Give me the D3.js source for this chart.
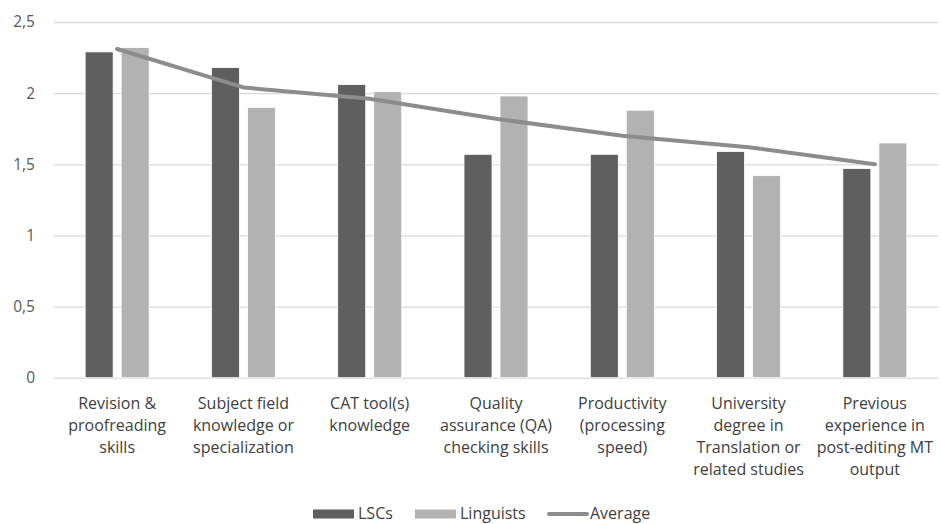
<!DOCTYPE html>
<html>
<head>
<meta charset="utf-8">
<script src="https://cdn.jsdelivr.net/npm/d3@7"></script>
<style>
  html, body { margin: 0; padding: 0; background: #fff; }
  svg { display: block; font-family: "Open Sans", "Noto Sans", sans-serif; }
</style>
</head>
<body>
<svg id="chart" width="942" height="524"></svg>
<script>
// Skill categories (multi-line labels)
const categories = [
  ["Revision &", "proofreading", "skills"],
  ["Subject field", "knowledge or", "specialization"],
  ["CAT tool(s)", "knowledge"],
  ["Quality", "assurance (QA)", "checking skills"],
  ["Productivity", "(processing", "speed)"],
  ["University", "degree in", "Translation or", "related studies"],
  ["Previous", "experience in", "post-editing MT", "output"]
];
const lscs      = [2.29, 2.18, 2.06, 1.57, 1.57, 1.59, 1.47];
const linguists = [2.32, 1.90, 2.01, 1.98, 1.88, 1.42, 1.65];
const average   = [2.31, 2.04, 1.96, 1.82, 1.70, 1.62, 1.50];
const yTicks = [0, 0.5, 1, 1.5, 2, 2.5];
const seriesNames = ["LSCs", "Linguists", "Average"];

const colors = { LSCs: "#5f5f5f", Linguists: "#b2b2b2", Average: "#8c8c8c" };

const svg = d3.select("#chart");
const margin = { left: 54, right: 4, top: 22 };
const W = 942;
const plotBottom = 377.7;

const x = d3.scaleBand()
  .domain(d3.range(categories.length))
  .range([margin.left, W - margin.right])
  .paddingInner(0).paddingOuter(0);

const y = d3.scaleLinear().domain([0, 2.5]).range([plotBottom, margin.top]);

const barW = 28, barGap = 8;

// Gridlines and value axis
const yAxis = d3.axisLeft(y)
  .tickValues(yTicks)
  .tickSize(-(W - margin.right - margin.left))
  .tickPadding(19)
  .tickFormat(d => d3.format("")(d).replace(".", ","));

const gy = svg.append("g")
  .attr("transform", `translate(${margin.left},0)`)
  .call(yAxis);
gy.select(".domain").remove();
gy.selectAll(".tick line").attr("stroke", "#d9d9d9").attr("stroke-width", 1.3);
gy.selectAll(".tick text")
  .attr("fill", "#595959")
  .attr("font-size", 15.5)
  .attr("font-family", "'Open Sans', 'Noto Sans', sans-serif");

// Bars
const groups = svg.append("g");
const center = i => x(i) + x.bandwidth() / 2;

groups.selectAll("rect.lsc")
  .data(lscs)
  .join("rect")
  .attr("class", "lsc")
  .attr("x", (d, i) => center(i) - barGap / 2 - barW)
  .attr("width", barW)
  .attr("y", d => y(d))
  .attr("height", d => y(0) - y(d))
  .attr("fill", colors.LSCs)
  .attr("stroke", "#fff")
  .attr("stroke-width", 0.8);

groups.selectAll("rect.ling")
  .data(linguists)
  .join("rect")
  .attr("class", "ling")
  .attr("x", (d, i) => center(i) + barGap / 2)
  .attr("width", barW)
  .attr("y", d => y(d))
  .attr("height", d => y(0) - y(d))
  .attr("fill", colors.Linguists)
  .attr("stroke", "#fff")
  .attr("stroke-width", 0.8);

// Average line
const line = d3.line()
  .x((d, i) => center(i))
  .y(d => y(d));

svg.append("path")
  .datum(average)
  .attr("d", line)
  .attr("fill", "none")
  .attr("stroke", colors.Average)
  .attr("stroke-width", 4)
  .attr("stroke-linecap", "round")
  .attr("stroke-linejoin", "round");

// Category labels
const labelG = svg.append("g")
  .attr("font-size", 16)
  .attr("fill", "#404040")
  .attr("text-anchor", "middle");

categories.forEach((lines, i) => {
  const t = labelG.append("text")
    .attr("x", center(i))
    .attr("y", 409);
  lines.forEach((ln, j) => {
    t.append("tspan")
      .attr("x", center(i))
      .attr("dy", j === 0 ? 0 : 22)
      .text(ln);
  });
});

// Legend
const legend = svg.append("g").attr("font-size", 16).attr("fill", "#404040");
const legendItems = [
  { name: seriesNames[0], type: "rect", x: 313 },
  { name: seriesNames[1], type: "rect", x: 415 },
  { name: seriesNames[2], type: "line", x: 549 }
];
const ly = 514;
legendItems.forEach(it => {
  if (it.type === "rect") {
    legend.append("rect")
      .attr("x", it.x).attr("y", ly - 4.5)
      .attr("width", 41).attr("height", 9)
      .attr("fill", colors[it.name]);
    legend.append("text")
      .attr("x", it.x + 45).attr("y", ly + 5)
      .text(it.name);
  } else {
    legend.append("line")
      .attr("x1", it.x).attr("x2", it.x + 38)
      .attr("y1", ly).attr("y2", ly)
      .attr("stroke", colors[it.name])
      .attr("stroke-width", 4)
      .attr("stroke-linecap", "round");
    legend.append("text")
      .attr("x", it.x + 41).attr("y", ly + 5)
      .text(it.name);
  }
});
</script>
</body>
</html>
